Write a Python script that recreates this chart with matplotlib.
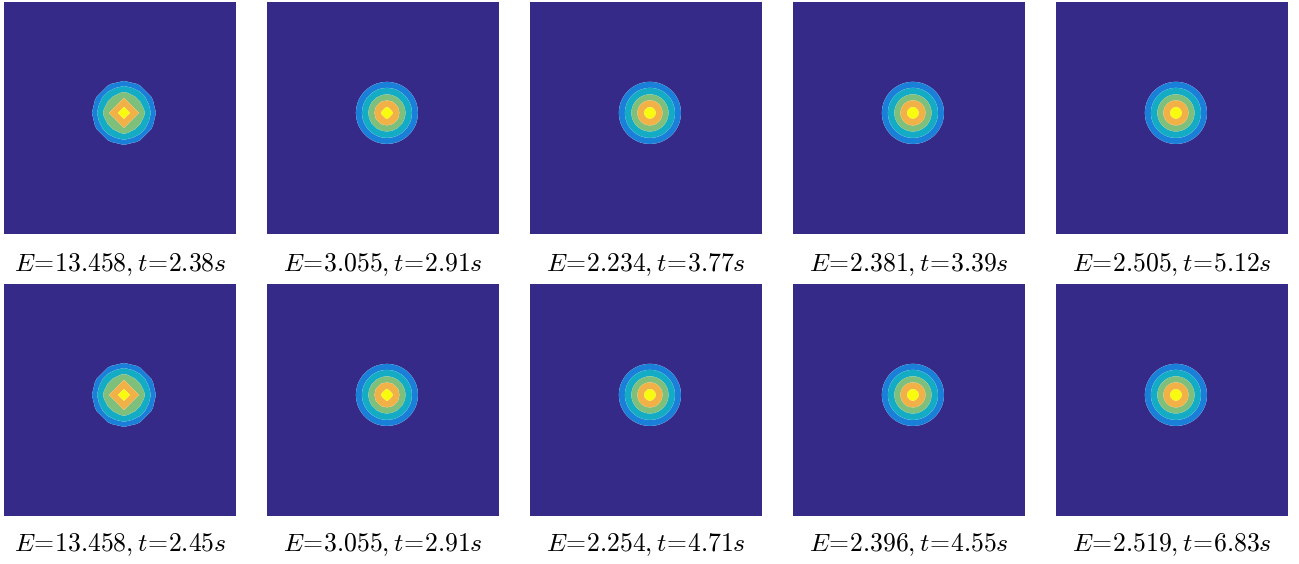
import numpy as np
import matplotlib
matplotlib.use("Agg")
import matplotlib.pyplot as plt
import matplotlib.tri as mtri

plt.rcParams["mathtext.fontset"] = "cm"

# values
energy_top = ["13.458", "3.055", "2.234", "2.381", "2.505"]
time_top = ["2.38", "2.91", "3.77", "3.39", "5.12"]
energy_bottom = ["13.458", "3.055", "2.254", "2.396", "2.519"]
time_bottom = ["2.45", "2.91", "4.71", "4.55", "6.83"]

# mesh spacing of each column (coarse -> fine), in panel units
mesh_h = [0.07, 0.022, 0.012, 0.012, 0.012]

# blob centre and outer radius of each coloured band (blue, teal, green, orange, yellow)
centre = (0.517, 0.522)
ring_radii_coarse = [0.138, 0.116, 0.090, 0.065, 0.026]
ring_radii = [0.134, 0.108, 0.080, 0.054, 0.025]
cone_R = 0.16

band_colors = ["#352a87", "#1a7fd9", "#14abc4", "#7fbf7c", "#f2b146", "#f9fb0e"]


def mesh_field(h):
    # union-jack triangulation with a node on the peak
    n = int(np.ceil(0.6 / h))
    k = np.arange(-n, n + 1)
    X, Y = np.meshgrid(centre[0] + h * k, centre[1] + h * k)
    m = len(k)
    idx = np.arange(m * m).reshape(m, m)
    tris = []
    for j in range(m - 1):
        for i in range(m - 1):
            a, b, c, d = idx[j, i], idx[j, i + 1], idx[j + 1, i], idx[j + 1, i + 1]
            if (k[i] + k[j]) % 2 == 0:
                tris += [[a, b, c], [b, d, c]]
            else:
                tris += [[a, b, d], [a, d, c]]
    tri = mtri.Triangulation(X.ravel(), Y.ravel(), np.array(tris))
    r = np.hypot(X.ravel() - centre[0], Y.ravel() - centre[1])
    return tri, 1 - r / cone_R


W, H = 1299, 564
fig = plt.figure(figsize=(W / 100, H / 100), dpi=100)

col_x = [4, 267, 530, 793, 1056]
row_y = [2, 284]
size = 232

rows = [(energy_top, time_top), (energy_bottom, time_bottom)]
cap_y = [265, 545]

for r, (E, T) in enumerate(rows):
    for c in range(5):
        ax = fig.add_axes([col_x[c] / W, 1 - (row_y[r] + size) / H, size / W, size / H])
        radii = ring_radii_coarse if c == 0 else ring_radii
        levels = [-10] + [1 - rr / cone_R for rr in radii] + [1.1]
        tri, Z = mesh_field(mesh_h[c])
        ax.tricontourf(tri, Z, levels=levels, colors=band_colors, antialiased=True)
        ax.set_xlim(0, 1)
        ax.set_ylim(0, 1)
        ax.axis("off")
        fig.text((col_x[c] + size / 2) / W, 1 - cap_y[r] / H,
                 rf"$E\!=\!{E[c]}, t\!=\!{T[c]}s$", ha="center", va="center", fontsize=18.5)

plt.savefig("out.png", dpi=100)
